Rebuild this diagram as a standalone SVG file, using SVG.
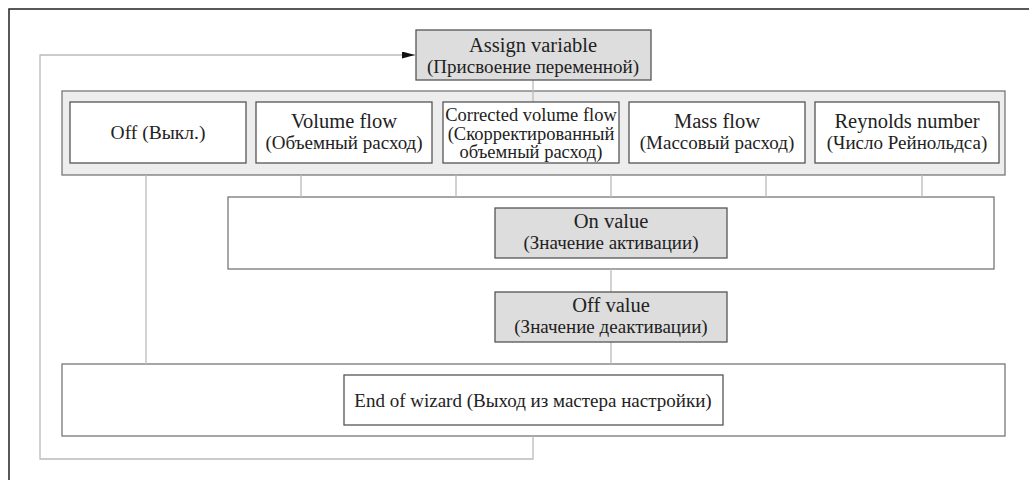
<svg xmlns="http://www.w3.org/2000/svg" width="1029" height="480" viewBox="0 0 1029 480">
<style>
.t{font-family:"Liberation Serif","DejaVu Serif",serif;font-size:19px;fill:#222;text-anchor:middle}
.l{font-size:20.5px}
.s{font-size:18.5px}
.box{fill:#fff;stroke:#555;stroke-width:1.3}
.gray{fill:#ddd;stroke:#555;stroke-width:1.3}
.cont{fill:#ededed;stroke:#777;stroke-width:1.3}
.outer{fill:#fff;stroke:#777;stroke-width:1.3}
.c{fill:none;stroke:#bbb;stroke-width:1.3}
</style>
<defs>
<marker id="arr" markerWidth="13" markerHeight="7" refX="13" refY="3.5" orient="auto" markerUnits="userSpaceOnUse">
<path d="M0,0 L13,3.5 L0,7 Z" fill="#111"/>
</marker>
</defs>
<rect width="1029" height="480" fill="#fff"/>
<path d="M9,480 V9 H1029" fill="none" stroke="#222" stroke-width="1.5"/>
<g id="outer-boxes">
<rect id="selection" class="cont" x="62" y="91" width="943" height="84"/>
<rect id="on-group" class="outer" x="228" y="197" width="766" height="72"/>
<rect id="end-group" class="outer" x="62" y="364" width="943" height="72"/>
</g>
<g id="connectors">
<path class="c" d="M533,436 V459 H40 V55 H415" marker-end="url(#arr)"/>
<path class="c" d="M533,80 V102"/>
<path class="c" d="M146,175 V364"/>
<path class="c" d="M301,175 V197 M456,175 V197 M611,175 V197 M766,175 V197 M922,175 V197"/>
<path class="c" d="M611,269 V292 M611,342 V364"/>
</g>
<g id="assign">
<rect class="gray" x="416" y="30" width="235" height="50"/>
<text class="t l" x="533" y="52">Assign variable</text>
<text class="t" x="533" y="73">(Присвоение переменной)</text>
</g>
<g id="off">
<rect class="box" x="70" y="102" width="176" height="61"/>
<text class="t" x="158" y="139" style="font-size:19.5px">Off (Выкл.)</text>
</g>
<g id="volume">
<rect class="box" x="256" y="102" width="176" height="61"/>
<text class="t l" x="344" y="128">Volume flow</text>
<text class="t" x="344" y="149">(Объемный расход)</text>
</g>
<g id="corrected">
<rect class="box" x="443" y="102" width="176" height="61"/>
<text class="t s" x="531" y="121">Corrected volume flow</text>
<text class="t s" x="531" y="140">(Скорректированный</text>
<text class="t s" x="531" y="158">объемный расход)</text>
</g>
<g id="mass">
<rect class="box" x="629" y="102" width="176" height="61"/>
<text class="t l" x="717" y="128">Mass flow</text>
<text class="t" x="717" y="149">(Массовый расход)</text>
</g>
<g id="reynolds">
<rect class="box" x="815" y="102" width="184" height="61"/>
<text class="t l" x="907" y="128">Reynolds number</text>
<text class="t" x="907" y="149">(Число Рейнольдса)</text>
</g>
<g id="on-value">
<rect class="gray" x="495" y="208" width="232" height="50"/>
<text class="t l" x="611" y="228">On value</text>
<text class="t" x="611" y="249">(Значение активации)</text>
</g>
<g id="off-value">
<rect class="gray" x="495" y="292" width="232" height="50"/>
<text class="t l" x="611" y="312">Off value</text>
<text class="t" x="611" y="333">(Значение деактивации)</text>
</g>
<g id="end">
<rect class="box" x="344" y="375" width="379" height="50"/>
<text class="t" x="533" y="407">End of wizard (Выход из мастера настройки)</text>
</g>
</svg>
